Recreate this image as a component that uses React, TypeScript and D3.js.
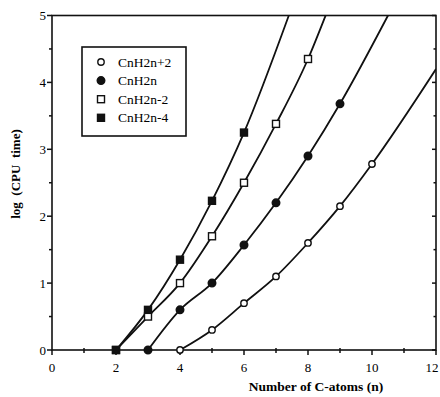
import React, { useEffect, useRef } from "react";
import * as d3 from "d3";

// number of carbon atoms and log(CPU time)
const nAlkane = [4, 5, 6, 7, 8, 9, 10];
const logAlkane = [0, 0.3, 0.7, 1.1, 1.6, 2.15, 2.78];
const nAlkene = [3, 4, 5, 6, 7, 8, 9];
const logAlkene = [0, 0.6, 1.0, 1.57, 2.2, 2.9, 3.68];
const nAlkyne = [2, 3, 4, 5, 6, 7, 8];
const logAlkyne = [0, 0.5, 1.0, 1.7, 2.5, 3.38, 4.35];
const nDiene = [2, 3, 4, 5, 6];
const logDiene = [0, 0.6, 1.35, 2.23, 3.25];

// where each fitted curve leaves the frame
const curveEnds = [
  [12, 4.2],
  [10.5, 5],
  [8.55, 5],
  [7.4, 5],
];

const seriesNames = ["CnH2n+2", "CnH2n", "CnH2n-2", "CnH2n-4"];
const markerShapes = ["circleOpen", "circleFilled", "squareOpen", "squareFilled"];

const xTicks = [0, 2, 4, 6, 8, 10, 12];
const yTicks = [0, 1, 2, 3, 4, 5];

export default function App() {
  const svgRef = useRef<SVGSVGElement>(null);

  useEffect(() => {
    const width = 440;
    const height = 397;
    const margin = { top: 15.5, right: 4, bottom: 47, left: 52 };
    const font = "'Liberation Serif', 'Times New Roman', serif";

    const svg = d3.select(svgRef.current);
    svg.selectAll("*").remove();
    svg.attr("width", width).attr("height", height);

    const x = d3.scaleLinear().domain([0, 12]).range([margin.left, width - margin.right]);
    const y = d3.scaleLinear().domain([0, 5]).range([height - margin.bottom, margin.top]);

    const x0 = x(0), x1 = x(12), y0 = y(0), y1 = y(5);

    svg
      .append("defs")
      .append("clipPath")
      .attr("id", "plot-clip")
      .append("rect")
      .attr("x", x0)
      .attr("y", y1)
      .attr("width", x1 - x0)
      .attr("height", y0 - y1);

    // frame
    svg
      .append("rect")
      .attr("x", x0)
      .attr("y", y1)
      .attr("width", x1 - x0)
      .attr("height", y0 - y1)
      .attr("fill", "none")
      .attr("stroke", "#111")
      .attr("stroke-width", 1.6);

    // y ticks (left, outward) and right ticks (inward)
    const yMinor = d3.range(0.5, 5, 1);
    const tg = svg.append("g").attr("stroke", "#111").attr("stroke-width", 1.5);
    yTicks.forEach((v) => {
      tg.append("line").attr("x1", x0 - 5).attr("x2", x0).attr("y1", y(v)).attr("y2", y(v));
      tg.append("line").attr("x1", x1 - 4).attr("x2", x1).attr("y1", y(v)).attr("y2", y(v));
    });
    yMinor.forEach((v) => {
      tg.append("line").attr("x1", x0 - 3).attr("x2", x0).attr("y1", y(v)).attr("y2", y(v));
      tg.append("line").attr("x1", x1 - 2.5).attr("x2", x1).attr("y1", y(v)).attr("y2", y(v));
    });
    const xMinor = d3.range(1, 12, 2);
    xTicks.forEach((v) => {
      tg.append("line").attr("x1", x(v)).attr("x2", x(v)).attr("y1", y0).attr("y2", y0 + 5);
    });
    xMinor.forEach((v) => {
      tg.append("line").attr("x1", x(v)).attr("x2", x(v)).attr("y1", y0 - 2).attr("y2", y0 + 3);
    });

    svg
      .append("g")
      .selectAll("text")
      .data(yTicks)
      .join("text")
      .attr("x", x0 - 6)
      .attr("y", (d) => y(d) + 4.5)
      .attr("text-anchor", "end")
      .attr("font-family", font)
      .attr("font-size", 13)
      .text((d) => d);

    svg
      .append("g")
      .selectAll("text")
      .data(xTicks)
      .join("text")
      .attr("x", (d) => Math.min(x(d), width - 8))
      .attr("y", y0 + 22)
      .attr("text-anchor", "middle")
      .attr("font-family", font)
      .attr("font-size", 13)
      .text((d) => d);

    svg
      .append("text")
      .attr("x", 316)
      .attr("y", height - 6)
      .attr("text-anchor", "middle")
      .attr("font-family", font)
      .attr("font-weight", "bold")
      .attr("font-size", 13.5)
      .text("Number of C-atoms (n)");

    svg
      .append("text")
      .attr("transform", `translate(${20}, ${174}) rotate(-90)`)
      .attr("text-anchor", "middle")
      .attr("font-family", font)
      .attr("font-weight", "bold")
      .attr("font-size", 13)
      .attr("xml:space", "preserve")
      .style("white-space", "pre")
      .text("log  (CPU  time)");

    const series = [
      { n: nAlkane, v: logAlkane },
      { n: nAlkene, v: logAlkene },
      { n: nAlkyne, v: logAlkyne },
      { n: nDiene, v: logDiene },
    ];

    const line = d3
      .line<number[]>()
      .x((d) => x(d[0]))
      .y((d) => y(d[1]))
      .curve(d3.curveMonotoneX);

    const plot = svg.append("g").attr("clip-path", "url(#plot-clip)");

    series.forEach((s, i) => {
      const pts = s.n.map((n, j) => [n, s.v[j]]);
      pts.push(curveEnds[i]);
      plot
        .append("path")
        .datum(pts)
        .attr("fill", "none")
        .attr("stroke", "#111")
        .attr("stroke-width", 1.8)
        .attr("d", line);
    });

    const drawMarker = (g: any, shape: string, cx: number, cy: number) => {
      if (shape.startsWith("circle")) {
        g.append("circle")
          .attr("cx", cx)
          .attr("cy", cy)
          .attr("r", shape === "circleOpen" ? 3.2 : 3.8)
          .attr("fill", shape === "circleOpen" ? "#fff" : "#111")
          .attr("stroke", "#111")
          .attr("stroke-width", 1.4);
      } else {
        const s = 7;
        g.append("rect")
          .attr("x", cx - s / 2)
          .attr("y", cy - s / 2)
          .attr("width", s)
          .attr("height", s)
          .attr("fill", shape === "squareOpen" ? "#fff" : "#111")
          .attr("stroke", "#111")
          .attr("stroke-width", 1.4);
      }
    };

    const marks = svg.append("g");
    series.forEach((s, i) => {
      s.n.forEach((n, j) => drawMarker(marks, markerShapes[i], x(n), y(s.v[j])));
    });

    // legend
    const lg = svg.append("g");
    lg.append("rect")
      .attr("x", 82)
      .attr("y", 47)
      .attr("width", 104)
      .attr("height", 89)
      .attr("fill", "#fff")
      .attr("stroke", "#111")
      .attr("stroke-width", 1.6);
    seriesNames.forEach((name, i) => {
      const ly = 62 + i * 18.6;
      drawMarker(lg, markerShapes[i], 101, ly);
      lg.append("text")
        .attr("x", 118)
        .attr("y", ly + 4.5)
        .attr("font-family", font)
        .attr("font-size", 13.5)
        .text(name);
    });
  }, []);

  return (
    <div style={{ position: "absolute", left: 0, top: 0 }}>
      <svg ref={svgRef}></svg>
    </div>
  );
}
